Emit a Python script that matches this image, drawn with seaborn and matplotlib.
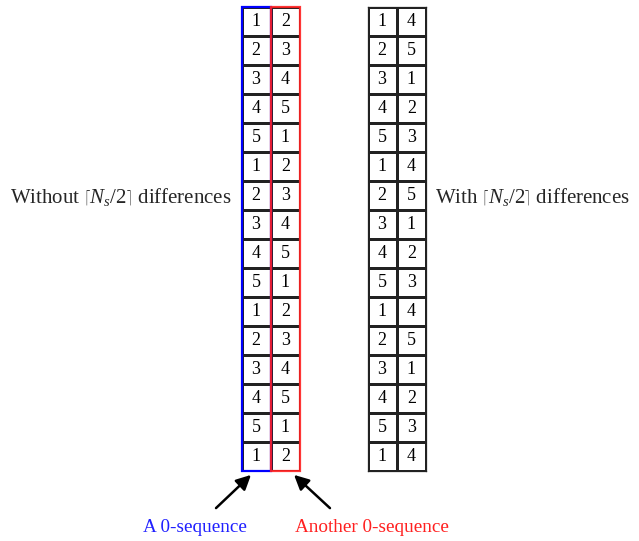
import numpy as np
import pandas as pd
import matplotlib
matplotlib.use("Agg")
import matplotlib.pyplot as plt
import seaborn as sns
from matplotlib.colors import ListedColormap
from matplotlib.patches import Rectangle, FancyArrowPatch

sns.set_theme(style="white")
plt.rcParams['font.family'] = ['Liberation Serif', 'DejaVu Serif']
plt.rcParams['mathtext.fontset'] = 'custom'
plt.rcParams['mathtext.rm'] = 'Liberation Serif'
plt.rcParams['mathtext.it'] = 'Liberation Serif:italic'

# Data
left_col1 = [1, 2, 3, 4, 5, 1, 2, 3, 4, 5, 1, 2, 3, 4, 5, 1]
left_col2 = [2, 3, 4, 5, 1, 2, 3, 4, 5, 1, 2, 3, 4, 5, 1, 2]
right_col1 = [1, 2, 3, 4, 5, 1, 2, 3, 4, 5, 1, 2, 3, 4, 5, 1]
right_col2 = [4, 5, 1, 2, 3, 4, 5, 1, 2, 3, 4, 5, 1, 2, 3, 4]

left_label = r"Without $\left\lceil N_s/2\right\rceil$ differences"
right_label = r"With $\left\lceil N_s/2\right\rceil$ differences"
blue_label = "A 0-sequence"
red_label = "Another 0-sequence"

W, H = 639, 541
fig = plt.figure(figsize=(W / 100, H / 100), dpi=100)

def fx(px):
    return px / W

def fy(py):
    return 1 - py / H

top, bottom = 7, 471
left_ax = fig.add_axes([fx(241.5), fy(bottom), fx(300) - fx(241.5), fy(top) - fy(bottom)])
right_ax = fig.add_axes([fx(367.5), fy(bottom), fx(426) - fx(367.5), fy(top) - fy(bottom)])

white = ListedColormap(['white'])
for ax, c1, c2 in [(left_ax, left_col1, left_col2), (right_ax, right_col1, right_col2)]:
    df = pd.DataFrame({'a': c1, 'b': c2})
    sns.heatmap(df, ax=ax, cmap=white, cbar=False, annot=True, fmt='d',
                linewidths=0.8, linecolor='#222222',
                annot_kws={'fontsize': 13, 'color': 'black', 'family': 'Liberation Serif'})
    ax.set_xticks([])
    ax.set_yticks([])
    ax.set_xlabel('')
    ax.set_ylabel('')
    for s in ax.spines.values():
        s.set_visible(True)
        s.set_color('#222222')
        s.set_linewidth(0.9)

n = len(left_col1)
left_ax.add_patch(Rectangle((0, 0), 1, n, fill=False, edgecolor='#0000ff', lw=1.6, clip_on=False, zorder=5))
left_ax.add_patch(Rectangle((1, 0), 1, n, fill=False, edgecolor='#ff2020', lw=1.6, clip_on=False, zorder=6, alpha=0.9))
for s in left_ax.spines.values():
    s.set_visible(False)

fig.text(fx(232), fy(197), left_label, ha='right', va='center', fontsize=15)
fig.text(fx(435), fy(197), right_label, ha='left', va='center', fontsize=15)

fig.text(fx(195), fy(528), blue_label, ha='center', va='center', fontsize=13.8, color='#2020ff')
fig.text(fx(372), fy(528), red_label, ha='center', va='center', fontsize=13.8, color='#ff2020')

arrow = dict(arrowstyle='-|>', color='black', lw=1.8, mutation_scale=22)
fig.add_artist(FancyArrowPatch((fx(214), fy(510)), (fx(253), fy(473)),
                               transform=fig.transFigure, **arrow))
fig.add_artist(FancyArrowPatch((fx(332), fy(510)), (fx(292), fy(473)),
                               transform=fig.transFigure, **arrow))

fig.savefig('out.png', dpi=100, facecolor='white')
